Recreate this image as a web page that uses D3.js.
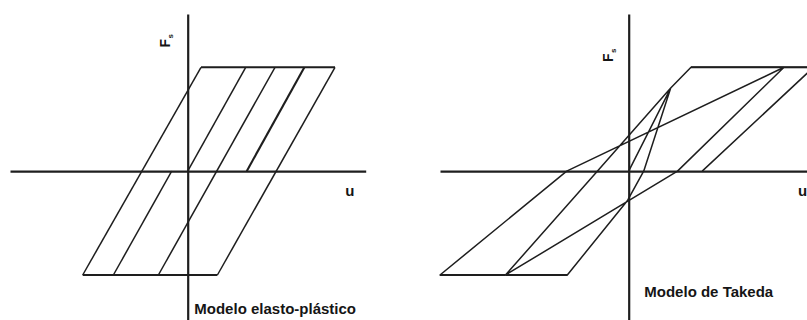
<!DOCTYPE html>
<html>
<head>
<meta charset="utf-8">
<script src="https://cdn.jsdelivr.net/npm/d3@7"></script>
<style>
  html, body { margin: 0; padding: 0; background: #fff; }
  svg { display: block; }
  text { font-family: "Liberation Sans", Arial, sans-serif; font-weight: bold; fill: #151515; }
</style>
</head>
<body>
<svg id="chart" width="807" height="320"></svg>
<script>
// ---------- data (u = displacement, F = force; F = ±1 is the yield plateau) ----------
// Elasto-plastic model: straight segments [u, F] pairs
const epPlateaus = [
  [[1.33, 1], [14.73, 1]],
  [[-10.5, -1], [2.97, -1]]
];
const epBranches = [
  [[-10.5, -1], [1.33, 1]],
  [[-7.43, -1], [-1.6, 0]],
  [[0, 0], [5.8, 1]],
  [[-2.93, -1], [8.73, 1]],
  [[2.97, -1], [14.73, 1]]
];
const epBoldBranches = [
  [[5.9, 0], [11.67, 1]]
];

// Takeda model: loading path as a sequence of [u, F] points
const takedaPath = [
  [0, 0], [4.2, 0.8], [1.5, 0], [-0.1, -0.28], [-6.14, -1], [-12.32, -1],
  [-3.14, 0], [4.2, 0.8], [6.23, 1], [15.53, 1], [4.88, 0],
  [-12.32, -1], [-18.87, -1], [-6.2, 0], [15.53, 1], [18.48, 1], [7.35, 0]
];

const labels = {
  left: "Modelo elasto-plástico",
  right: "Modelo de Takeda",
  force: "F",
  forceSub: "s",
  disp: "u"
};

// ---------- drawing ----------
const svg = d3.select("#chart");
const ink = "#1e1e1e";

function panel(opts) {
  const x = d3.scaleLinear().domain(opts.uDomain).range(opts.xRange);
  const y = d3.scaleLinear().domain([-1, 1]).range([275, 67.3]);
  const g = svg.append("g");

  // axes (no ticks), drawn with d3 axis generators
  const yAxisScale = y.copy().domain([y.invert(320), y.invert(14)]).range([320, 14]);
  g.append("g")
    .attr("transform", `translate(0,${y(0)})`)
    .call(d3.axisBottom(x).tickValues([]).tickSizeOuter(0))
    .call(s => s.select(".domain").attr("stroke", ink).attr("stroke-width", 2.2));
  g.append("g")
    .attr("transform", `translate(${x(0)},0)`)
    .call(d3.axisLeft(yAxisScale).tickValues([]).tickSizeOuter(0))
    .call(s => s.select(".domain").attr("stroke", ink).attr("stroke-width", 2.2));

  const line = d3.line().x(d => x(d[0])).y(d => y(d[1]));
  return { x, y, g, line };
}

// Left panel
const L = panel({ uDomain: [-17.77, 17.8], xRange: [10, 365.7] });
L.g.selectAll("path.br").data(epBranches).join("path")
  .attr("class", "br").attr("d", L.line)
  .attr("fill", "none").attr("stroke", ink).attr("stroke-width", 1.5);
L.g.selectAll("path.bb").data(epBoldBranches).join("path")
  .attr("class", "bb").attr("d", L.line)
  .attr("fill", "none").attr("stroke", ink).attr("stroke-width", 2.1);
L.g.selectAll("path.pl").data(epPlateaus).join("path")
  .attr("class", "pl").attr("d", L.line)
  .attr("fill", "none").attr("stroke", ink).attr("stroke-width", 2);

// Right panel
const R = panel({ uDomain: [-18.87, 17.83], xRange: [440, 807] });
R.g.append("path").datum(takedaPath)
  .attr("d", R.line)
  .attr("fill", "none").attr("stroke", ink).attr("stroke-width", 1.5)
  .attr("stroke-linejoin", "round");
// thicker horizontal plateaus
const takedaPlateaus = [];
for (let i = 1; i < takedaPath.length; i++) {
  if (Math.abs(takedaPath[i][1]) === 1 && takedaPath[i][1] === takedaPath[i - 1][1])
    takedaPlateaus.push([takedaPath[i - 1], takedaPath[i]]);
}
R.g.selectAll("path.pl").data(takedaPlateaus).join("path")
  .attr("class", "pl").attr("d", R.line)
  .attr("fill", "none").attr("stroke", ink).attr("stroke-width", 2);

// Labels
function forceLabel(px, py) {
  const t = svg.append("text")
    .attr("transform", `translate(${px},${py}) rotate(-90)`)
    .attr("font-size", 14);
  t.append("tspan").text(labels.force);
  t.append("tspan").text(labels.forceSub).attr("font-size", 8).attr("dy", 3).attr("dx", 0.5);
}
forceLabel(L.x(0) - 18, 47.5);
forceLabel(R.x(0) - 15.3, 62);

svg.append("text").attr("x", L.x(0) + 157.5).attr("y", 195.5).attr("font-size", 15).text(labels.disp);
svg.append("text").attr("x", R.x(0) + 169.2).attr("y", 195.5).attr("font-size", 15).text(labels.disp);

svg.append("text").attr("x", L.x(0) + 6.6).attr("y", 314).attr("font-size", 15).text(labels.left);
svg.append("text").attr("x", R.x(0) + 15.6).attr("y", 296.8).attr("font-size", 15).text(labels.right);
</script>
</body>
</html>
